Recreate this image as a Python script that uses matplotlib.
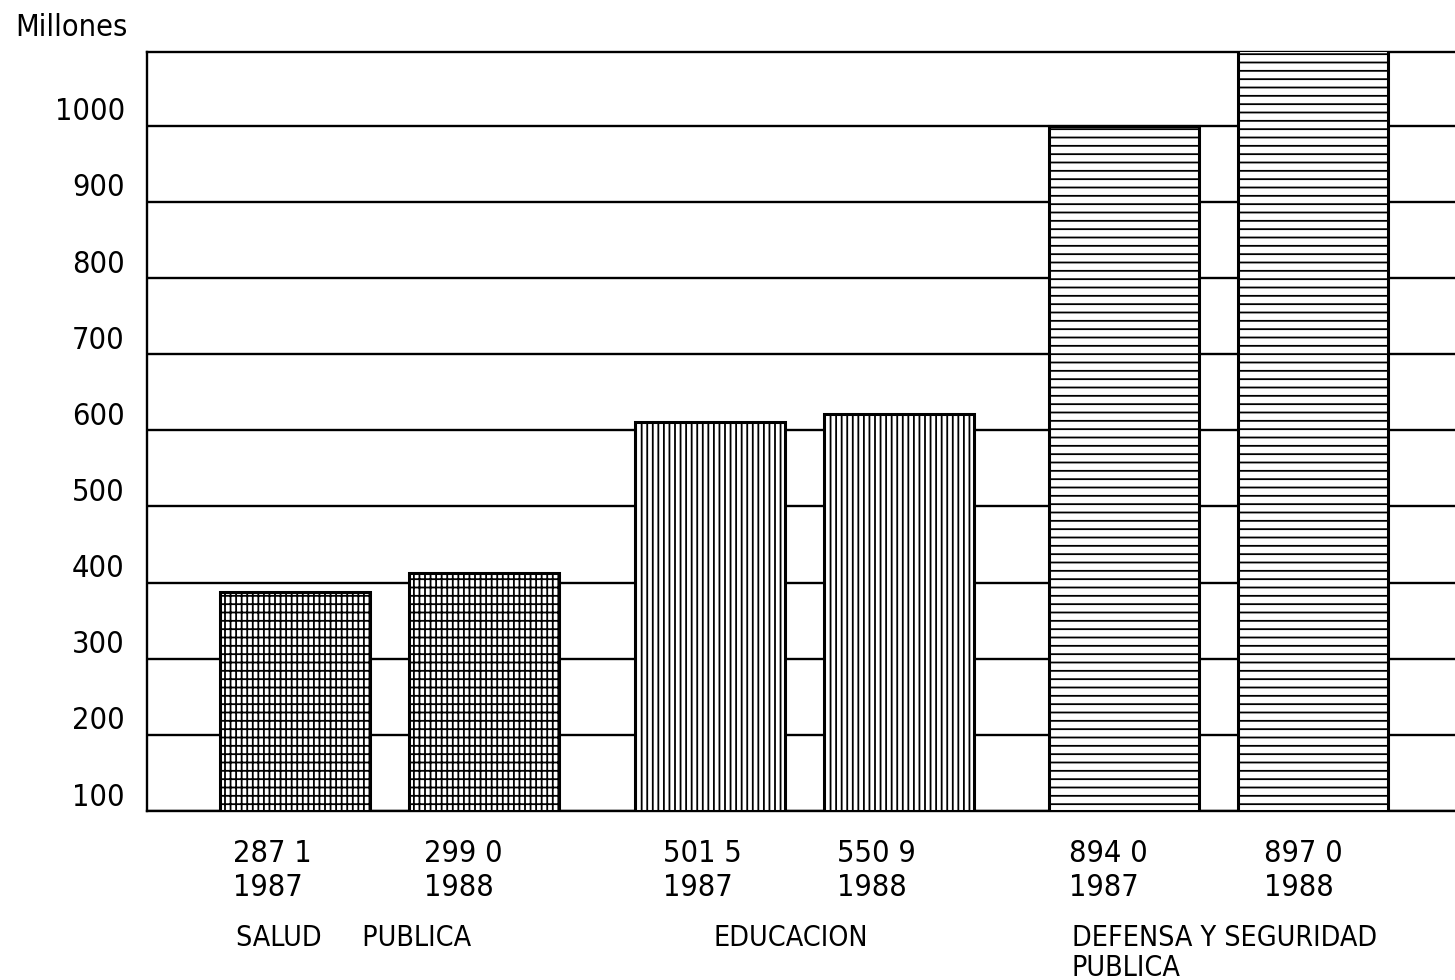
import os
import matplotlib
matplotlib.use('Agg')
import matplotlib.pyplot as plt
import matplotlib.transforms as mtransforms
import matplotlib.font_manager as fm

# --- data ---
categories = ['SALUD     PUBLICA', 'EDUCACION', 'DEFENSA Y SEGURIDAD\nPUBLICA']
years = ['1987', '1988']
# amounts printed under each bar (millones), as typed in the original
value_labels = [['287 1', '299 0'], ['501 5', '550 9'], ['894 0', '897 0']]
# bar tops as they are drawn against the axis scale
bar_tops = [[388, 413], [611, 622], [1000, 1100]]
y_ticks = [100, 200, 300, 400, 500, 600, 700, 800, 900, 1000]


# the original uses a narrow typewriter face; look for any condensed sans
def pick_narrow_font():
    prefs = ['liberation sans narrow', 'dejavu sans condensed', 'roboto condensed',
             'noto sans condensed', 'open sans condensed', 'arial narrow']
    found = []
    for f in fm.fontManager.ttflist:
        base = os.path.basename(f.fname).lower()
        name = f.name.lower()
        if f.style != 'normal' or f.weight not in (400, 'normal', 'regular'):
            continue
        if 'mono' in name or 'serif' in name and 'sans' not in name:
            continue
        narrow = ('narrow' in name or 'condensed' in name or 'narrow' in base
                  or ('condensed' in base and 'semi' not in base and 'extra' not in base)
                  or f.stretch == 'condensed')
        if narrow:
            found.append((name, base, f.fname))
    for p in prefs:
        for name, base, path in found:
            if p in name or p.replace(' ', '') in base.replace('-', ''):
                return path
    return found[0][2] if found else None


narrow_path = pick_narrow_font()
if narrow_path:
    font = fm.FontProperties(fname=narrow_path, size=22)
    cat_font = fm.FontProperties(fname=narrow_path, size=20.5)
else:
    font = fm.FontProperties(family='DejaVu Sans', size=18.5)
    cat_font = fm.FontProperties(family='DejaVu Sans', size=17.5)

plt.rcParams['hatch.linewidth'] = 1.3
plt.rcParams['hatch.color'] = 'black'

hatches = ['++|', '|||', '--']
group_step = 2.765
first_center = 1.615
pair_offset = 0.63
bar_width = 1.0
value_dx = [[0.09, 0.10], [0.19, 0.09], [0.13, 0.17]]   # text start inside each bar
cat_dx = [0.11, 0.53, 0.15]

fig = plt.figure(figsize=(14.55, 9.8), dpi=100)
ax = fig.add_axes([147 / 1455, 1 - 811 / 980, 1 - 147 / 1455, (811 - 52) / 980])

ax.set_xlim(0, 1308 / 150)
ax.set_ylim(100, 1097)

for g, cat in enumerate(categories):
    center = first_center + g * group_step
    for i, yr in enumerate(years):
        x = center + (i - 0.5) * 2 * pair_offset
        ax.bar(x, bar_tops[g][i] - 100, bottom=100, width=bar_width,
               color='white', edgecolor='black', linewidth=2.2,
               hatch=hatches[g], zorder=3)

# gridlines behind the bars
ax.set_yticks(y_ticks)
ax.set_yticklabels([str(v) for v in y_ticks], fontproperties=font)
ax.yaxis.grid(True, color='black', linewidth=1.7)
ax.set_axisbelow(True)
ax.tick_params(axis='y', length=0, pad=16)
ax.tick_params(axis='x', bottom=False, labelbottom=False)
shift = mtransforms.ScaledTranslation(0, 17 / 100, fig.dpi_scale_trans)
for lab in ax.get_yticklabels():
    lab.set_transform(lab.get_transform() + shift)

for side in ['left', 'top', 'bottom']:
    ax.spines[side].set_linewidth(1.7)
ax.spines['right'].set_visible(False)

# labels below the chart
trans = mtransforms.blended_transform_factory(ax.transData, fig.transFigure)
for g, cat in enumerate(categories):
    center = first_center + g * group_step
    for i, yr in enumerate(years):
        left = center + (i - 0.5) * 2 * pair_offset - bar_width / 2
        ax.text(left + value_dx[g][i], 1 - 862 / 980, value_labels[g][i],
                transform=trans, ha='left', va='baseline', clip_on=False,
                fontproperties=font)
        ax.text(left + value_dx[g][i], 1 - 896 / 980, yr,
                transform=trans, ha='left', va='baseline', clip_on=False,
                fontproperties=font)
    first_left = center - pair_offset - bar_width / 2
    for k, line in enumerate(cat.split('\n')):
        ax.text(first_left + cat_dx[g], 1 - (946 + 30 * k) / 980, line,
                transform=trans, ha='left', va='baseline', clip_on=False,
                fontproperties=cat_font)

fig.text(15 / 1455, 1 - 36 / 980, 'Millones', ha='left', va='baseline',
         fontproperties=font)

fig.savefig('out.png', dpi=100)
